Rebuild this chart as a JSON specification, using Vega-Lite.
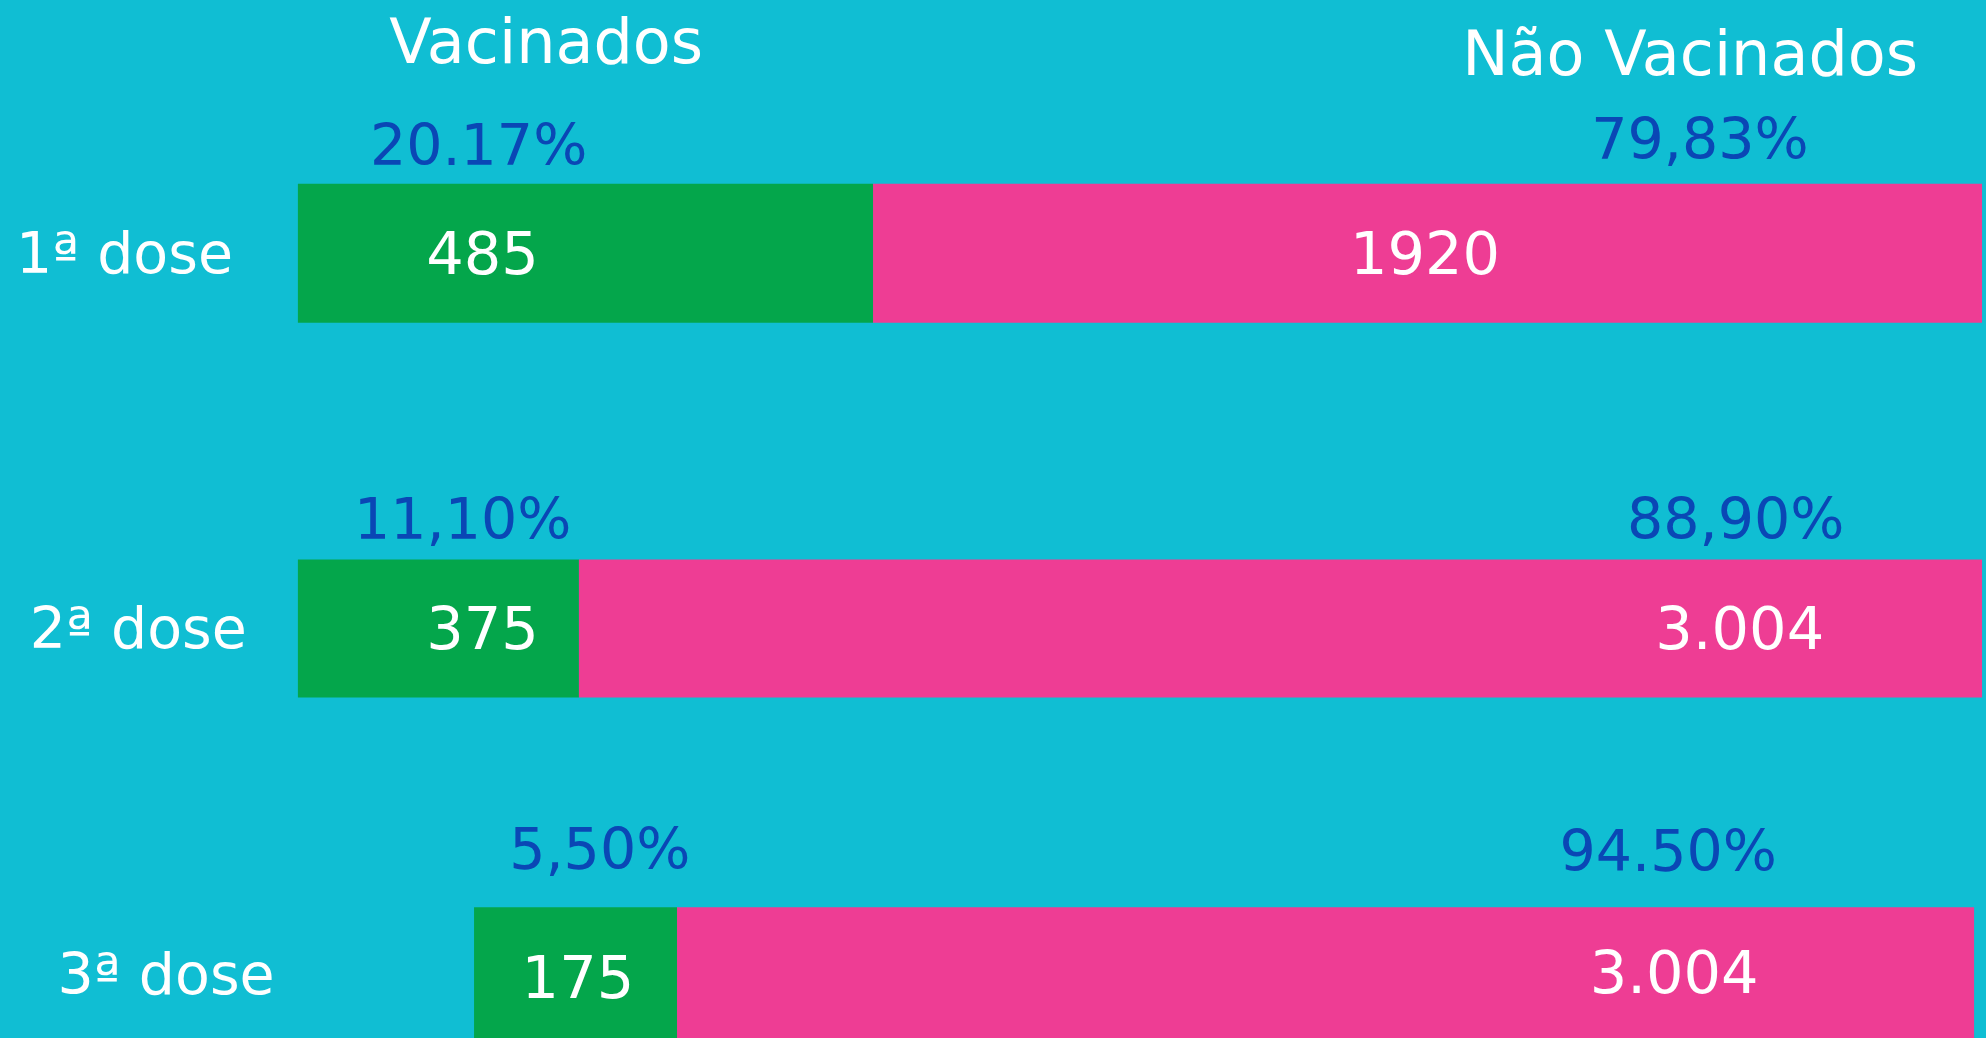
{
  "$schema": "https://vega.github.io/schema/vega-lite/v6.json",
  "width": 1986,
  "height": 1038,
  "padding": 0,
  "autosize": {"type": "none"},
  "background": "#10BED3",
  "config": {"view": {"stroke": null}},
  "datasets": {
    "barras": [
      {"dose": "1ª dose", "grupo": "Vacinados", "casos": 485, "inicio": 15.0, "fim": 43.96, "topo": 17.7, "base": 31.1},
      {"dose": "1ª dose", "grupo": "Não Vacinados", "casos": 1920, "inicio": 43.96, "fim": 99.8, "topo": 17.7, "base": 31.1},
      {"dose": "2ª dose", "grupo": "Vacinados", "casos": 375, "inicio": 15.0, "fim": 29.15, "topo": 53.9, "base": 67.2},
      {"dose": "2ª dose", "grupo": "Não Vacinados", "casos": 3004, "inicio": 29.15, "fim": 99.8, "topo": 53.9, "base": 67.2},
      {"dose": "3ª dose", "grupo": "Vacinados", "casos": 175, "inicio": 23.87, "fim": 34.09, "topo": 87.4, "base": 101},
      {"dose": "3ª dose", "grupo": "Não Vacinados", "casos": 3004, "inicio": 34.09, "fim": 99.4, "topo": 87.4, "base": 101}
    ],
    "rotulos": [
      {"texto": "Vacinados", "tipo": "titulo", "px": 27.5, "py": 4.2},
      {"texto": "Não Vacinados", "tipo": "titulo", "px": 85.1, "py": 5.35},
      {"texto": "20.17%", "tipo": "percentual", "px": 24.1, "py": 14.3},
      {"texto": "79,83%", "tipo": "percentual", "px": 85.6, "py": 13.65},
      {"texto": "11,10%", "tipo": "percentual", "px": 23.3, "py": 50.25},
      {"texto": "88,90%", "tipo": "percentual", "px": 87.4, "py": 50.25},
      {"texto": "5,50%", "tipo": "percentual", "px": 30.2, "py": 82.05},
      {"texto": "94.50%", "tipo": "percentual", "px": 84.0, "py": 82.25},
      {"texto": "485", "tipo": "casos", "px": 24.3, "py": 24.65},
      {"texto": "1920", "tipo": "casos", "px": 71.75, "py": 24.65},
      {"texto": "375", "tipo": "casos", "px": 24.3, "py": 60.75},
      {"texto": "3.004", "tipo": "casos", "px": 87.6, "py": 60.75},
      {"texto": "175", "tipo": "casos", "px": 29.1, "py": 94.45},
      {"texto": "3.004", "tipo": "casos", "px": 84.3, "py": 93.95},
      {"texto": "1ª dose", "tipo": "dose", "px": 0.8, "py": 24.65},
      {"texto": "2ª dose", "tipo": "dose", "px": 1.5, "py": 60.75},
      {"texto": "3ª dose", "tipo": "dose", "px": 2.9, "py": 94.15}
    ]
  },
  "layer": [
    {
      "data": {"name": "barras"},
      "mark": {"type": "bar", "clip": true},
      "encoding": {
        "x": {"field": "inicio", "type": "quantitative", "scale": {"domain": [0, 100]}, "axis": null},
        "x2": {"field": "fim"},
        "y": {"field": "topo", "type": "quantitative", "scale": {"domain": [0, 100], "reverse": true}, "axis": null},
        "y2": {"field": "base"},
        "color": {"field": "grupo", "type": "nominal", "scale": {"domain": ["Vacinados", "Não Vacinados"], "range": ["#04A64B", "#EE3D94"]}, "legend": null}
      }
    },
    {
      "data": {"name": "rotulos"},
      "transform": [{"filter": "datum.tipo === 'titulo'"}],
      "mark": {"type": "text", "align": "center", "baseline": "middle", "font": "DejaVu Sans", "fontSize": 62, "color": "#FFFFFF"},
      "encoding": {
        "x": {"field": "px", "type": "quantitative", "axis": null},
        "y": {"field": "py", "type": "quantitative", "axis": null},
        "text": {"field": "texto"}
      }
    },
    {
      "data": {"name": "rotulos"},
      "transform": [{"filter": "datum.tipo === 'casos'"}],
      "mark": {"type": "text", "align": "center", "baseline": "middle", "font": "DejaVu Sans", "fontSize": 59, "color": "#FFFFFF"},
      "encoding": {
        "x": {"field": "px", "type": "quantitative", "axis": null},
        "y": {"field": "py", "type": "quantitative", "axis": null},
        "text": {"field": "texto"}
      }
    },
    {
      "data": {"name": "rotulos"},
      "transform": [{"filter": "datum.tipo === 'percentual'"}],
      "mark": {"type": "text", "align": "center", "baseline": "middle", "font": "DejaVu Sans", "fontSize": 57, "color": "#0A47B5"},
      "encoding": {
        "x": {"field": "px", "type": "quantitative", "axis": null},
        "y": {"field": "py", "type": "quantitative", "axis": null},
        "text": {"field": "texto"}
      }
    },
    {
      "data": {"name": "rotulos"},
      "transform": [{"filter": "datum.tipo === 'dose'"}],
      "mark": {"type": "text", "align": "left", "baseline": "middle", "font": "DejaVu Sans", "fontSize": 57, "color": "#FFFFFF"},
      "encoding": {
        "x": {"field": "px", "type": "quantitative", "axis": null},
        "y": {"field": "py", "type": "quantitative", "axis": null},
        "text": {"field": "texto"}
      }
    }
  ]
}
